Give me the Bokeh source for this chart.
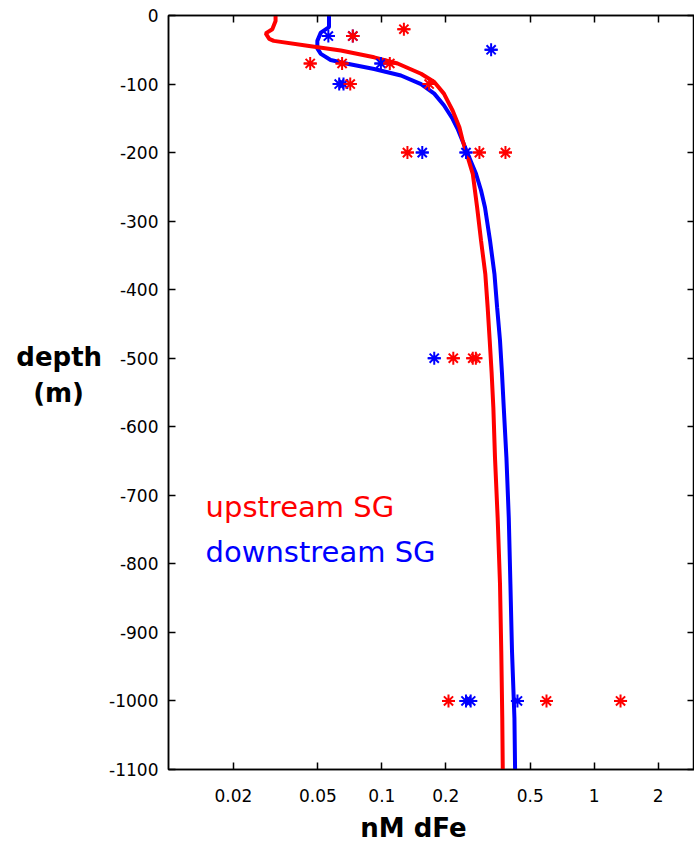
from bokeh.plotting import figure
from bokeh.models import FixedTicker, LinearAxis, LogAxis, Range1d, ColumnDataSource
from bokeh.embed import file_html
from bokeh.resources import INLINE
from bokeh.core.properties import value

# ---- model profiles (nM dFe vs depth m) ----
up_model_fe = [0.0316, 0.0316, 0.0305, 0.0284, 0.0295, 0.031, 0.0446, 0.0641, 0.092, 0.1186,
               0.153, 0.1765, 0.196, 0.2156, 0.2318, 0.240, 0.268, 0.281, 0.293, 0.307,
               0.315, 0.322, 0.329, 0.335, 0.341, 0.351, 0.360, 0.365, 0.369, 0.371]
up_model_depth = [0, -8, -20, -26, -34, -37, -44, -51, -61, -70,
                  -85, -97, -114, -139, -163, -182, -231, -280, -328, -377,
                  -426, -474, -523, -572, -645, -733, -829, -927, -1025, -1100]

down_model_fe = [0.0564, 0.0564, 0.0516, 0.0497, 0.0497, 0.0516, 0.0574, 0.0689, 0.092, 0.123,
                 0.153, 0.1765, 0.196, 0.2156, 0.227, 0.258, 0.2776, 0.293, 0.306, 0.323,
                 0.339, 0.349, 0.360, 0.368, 0.375, 0.386, 0.396, 0.403, 0.410, 0.421, 0.424]
down_model_depth = [0, -17, -25, -37, -48, -56, -65, -70.5, -78, -87.5,
                    -100, -114, -131, -151, -165, -207, -231, -255, -280, -328,
                    -377, -426, -474, -523, -572, -645, -733, -829, -927, -1025, -1100]

# ---- observations ----
up_obs_fe = [0.127, 0.073, 0.046, 0.065, 0.109, 0.071, 0.167, 0.132, 0.288, 0.382,
             0.217, 0.268, 0.277, 0.206, 0.596, 1.33]
up_obs_depth = [-20, -30, -70, -70, -70, -100, -100, -200, -200, -200,
                -500, -500, -500, -1000, -1000, -1000]

down_obs_fe = [0.056, 0.073, 0.327, 0.099, 0.063, 0.066, 0.155, 0.249, 0.1765, 0.249, 0.262, 0.435]
down_obs_depth = [-30, -30, -50, -70, -100, -100, -200, -200, -500, -1000, -1000, -1000]

x_ticks = [0.02, 0.05, 0.1, 0.2, 0.5, 1, 2]
x_tick_labels = ["0.02", "0.05", "0.1", "0.2", "0.5", "1", "2"]
y_ticks = [0, -100, -200, -300, -400, -500, -600, -700, -800, -900, -1000, -1100]
y_tick_labels = ["0", "-100", "-200", "-300", "-400", "-500", "-600", "-700", "-800", "-900", "-1000", "-1100"]

legend_labels = ["upstream SG", "downstream SG"]
legend_colors = ["#ff0000", "#0000ff"]

NB = "\u00a0"
x_title = "nM dFe" + NB * 4          # padding shifts the centred title slightly left
y_title = "depth\n(m)" + NB * 2 + "\n" + NB   # centre "(m)" and lift the block

FONT = "DejaVu Sans"

p = figure(width=694, height=849, x_axis_type="log",
           x_range=Range1d(0.0099, 2.965), y_range=Range1d(-1100, 0),
           output_backend="svg", toolbar_location=None,
           min_border_left=168, min_border_top=15, min_border_right=0, min_border_bottom=80)
p.background_fill_color = "white"
p.border_fill_color = "white"
p.outline_line_color = "black"
p.outline_line_width = 1.5
p.xgrid.grid_line_color = None
p.ygrid.grid_line_color = None


def style_axis(ax, ticks, labels, show_labels=True):
    ax.ticker = FixedTicker(ticks=ticks)
    ax.major_label_overrides = {t: l for t, l in zip(ticks, labels)}
    ax.major_tick_in = 7
    ax.major_tick_out = 0
    ax.minor_tick_line_color = None
    ax.axis_line_color = "black"
    ax.axis_line_width = 1.5
    ax.major_tick_line_color = "black"
    ax.major_tick_line_width = 1.5
    ax.major_label_text_font = FONT
    if show_labels:
        ax.major_label_text_font_size = "17px"
        ax.major_label_text_color = "black"
    else:
        ax.major_label_text_font_size = "1px"
        ax.major_label_text_color = None
        ax.major_label_standoff = 0


xa = p.xaxis[0]
style_axis(xa, x_ticks, x_tick_labels)
xa.major_label_standoff = 19
xa.axis_label = x_title
xa.axis_label_text_font = FONT
xa.axis_label_text_font_style = "bold"
xa.axis_label_text_font_size = "26px"
xa.axis_label_text_color = "black"
xa.axis_label_standoff = 8

ya = p.yaxis[0]
style_axis(ya, y_ticks, y_tick_labels)
ya.major_label_standoff = 10
ya.axis_label = y_title
ya.axis_label_orientation = "horizontal"
ya.axis_label_text_font = FONT
ya.axis_label_text_font_style = "bold"
ya.axis_label_text_font_size = "26px"
ya.axis_label_text_color = "black"
ya.axis_label_standoff = 4

top = LogAxis()
style_axis(top, x_ticks, x_tick_labels, show_labels=False)
p.add_layout(top, "above")
right = LinearAxis()
style_axis(right, y_ticks, y_tick_labels, show_labels=False)
p.add_layout(right, "right")

# model lines
p.line(down_model_fe, down_model_depth, line_color="#0000ff", line_width=4)
p.line(up_model_fe, up_model_depth, line_color="#ff0000", line_width=4)

# observations
down_src = ColumnDataSource(dict(fe=down_obs_fe, depth=down_obs_depth))
up_src = ColumnDataSource(dict(fe=up_obs_fe, depth=up_obs_depth))
for src, col in ((down_src, "#0000ff"), (up_src, "#ff0000")):
    p.scatter("fe", "depth", source=src, marker="asterisk", size=13, line_color=col, line_width=2)
    p.scatter("fe", "depth", source=src, marker="dash", size=13, line_color=col, line_width=2)

# legend texts
p.text(x=[0.0148, 0.0148], y=[-717, -782], text=legend_labels, text_color=legend_colors,
       text_font=value(FONT), text_font_size="29px", text_baseline="alphabetic", text_align="left")

open("out.html", "w").write(file_html(p, INLINE))
